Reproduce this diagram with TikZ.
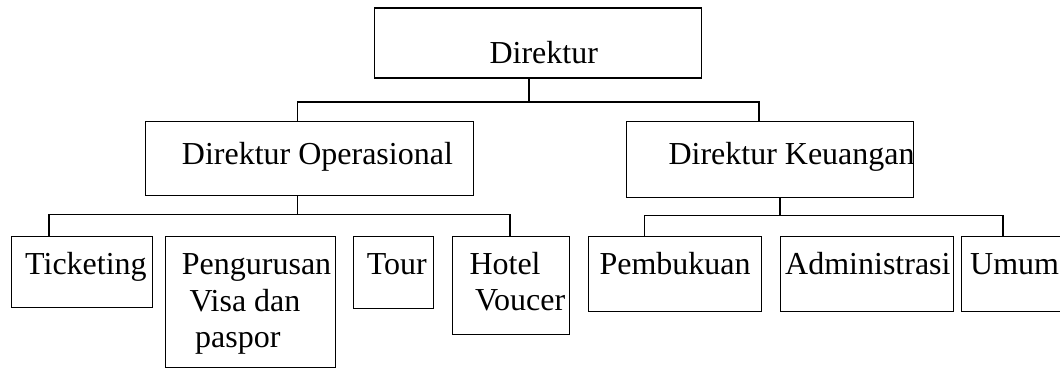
\documentclass[tikz,border=0pt]{standalone}
\usepackage{fontspec}
\setmainfont{Liberation Serif}
\begin{document}
\begin{tikzpicture}[x=1pt,y=-1pt,
  box/.style={draw, line width=1.2pt, inner sep=0pt, anchor=north west},
  lbl/.style={anchor=base west, inner sep=0pt, font=\fontsize{32}{37}\selectfont},
  conn/.style={line width=1.2pt}]
\useasboundingbox (0,0) rectangle (1060,369);
% boxes
\node[box, minimum width=327pt, minimum height=70pt]   (dir)  at (373.5,7.5) {};
\node[box, minimum width=328pt, minimum height=74pt]   (op)   at (145,121) {};
\node[box, minimum width=287pt, minimum height=75.5pt] (keu)  at (626,121) {};
\node[box, minimum width=141pt, minimum height=71.5pt] (tic)  at (11,235.5) {};
\node[box, minimum width=170pt, minimum height=131pt]  (pen)  at (165,235.5) {};
\node[box, minimum width=80pt,  minimum height=72pt]   (tour) at (353,235.5) {};
\node[box, minimum width=117pt, minimum height=98pt]   (hot)  at (452,235.5) {};
\node[box, minimum width=173pt, minimum height=75pt]   (pem)  at (587.5,235.5) {};
\node[box, minimum width=173pt, minimum height=75pt]   (adm)  at (779.5,235.5) {};
\node[box, minimum width=120pt, minimum height=75pt]   (umu)  at (960.5,235.5) {};
% texts
\node[lbl] (tdir)  at (489.3,63.3)  {Direktur};
\node[lbl] (top)   at (181.7,164.3) {Direktur Operasional};
\node[lbl] (tkeu)  at (668.3,164.3) {Direktur Keuangan};
\node[lbl] (ttic)  at (25,274)      {Ticketing};
\node[lbl] (tpen1) at (181.7,274.3) {Pengurusan};
\node[lbl] (tpen2) at (189.3,311.3) {Visa dan};
\node[lbl] (tpen3) at (195,347)     {paspor};
\node[lbl] (ttour) at (366.7,274)   {Tour};
\node[lbl] (thot1) at (469.3,274)   {Hotel};
\node[lbl] (thot2) at (475,310.7)   {Voucer};
\node[lbl] (tpem)  at (599.3,274)   {Pembukuan};
\node[lbl] (tadm)  at (785,274)     {Administrasi};
\node[lbl] (tumu)  at (970,274.5)   {Umum};
% junction coordinates
\coordinate (j1) at (529,102);
\coordinate (jL) at (297.5,102);
\coordinate (jR) at (759,102);
\coordinate (k1) at (297.5,214.5);
\coordinate (kL) at (49,214.5);
\coordinate (kR) at (510,214.5);
\coordinate (m1) at (780,215.5);
\coordinate (mL) at (644.5,215.5);
\coordinate (mR) at (1003,215.5);
% connectors
\draw[conn] (dir.south -| j1) -- (j1);
\draw[conn] (op.north -| jL) -- (jL) -- (jR) -- (keu.north -| jR);
\draw[conn] (op.south -| k1) -- (k1);
\draw[conn] (tic.north -| kL) -- (kL) -- (kR) -- (hot.north -| kR);
\draw[conn] (keu.south -| m1) -- (m1);
\draw[conn] (pem.north -| mL) -- (mL) -- (mR) -- (umu.north -| mR);
\end{tikzpicture}
\end{document}
